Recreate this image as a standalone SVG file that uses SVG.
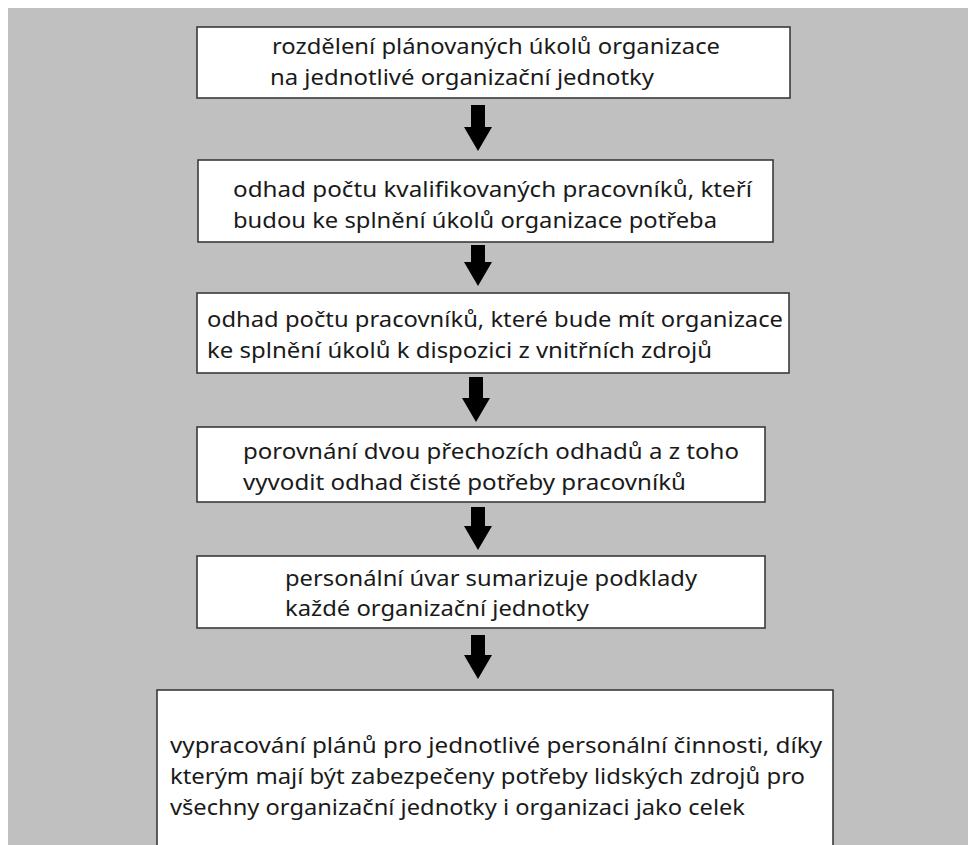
<svg xmlns="http://www.w3.org/2000/svg" width="970" height="845" viewBox="0 0 970 845">
<style>
.bg{fill:#c0c0c0}
.box{fill:#ffffff;stroke:#3a3a3a;stroke-width:1.6}
.t{font-family:"Noto Sans","Open Sans","Liberation Sans",sans-serif;font-size:22px;fill:#1a1a1a}
.arr{fill:#000000}
</style>
<rect width="970" height="845" fill="#ffffff"/>
<rect class="bg" x="8" y="8" width="960" height="837"/>
<g id="connectors">
<polygon class="arr" points="471,105 485,105 485,127 492,127 478,151 464,127 471,127"/>
<polygon class="arr" points="471,245 485,245 485,262 492,262 478,286 464,262 471,262"/>
<polygon class="arr" points="469,377 483,377 483,398 490,398 476,422 462,398 469,398"/>
<polygon class="arr" points="471,507 485,507 485,526 492,526 478,550 464,526 471,526"/>
<polygon class="arr" points="471,635 485,635 485,655 492,655 478,679 464,655 471,655"/>
</g>
<g id="n1">
<rect class="box" x="197" y="27" width="593" height="71"/>
<text class="t" x="272" y="54" textLength="448" lengthAdjust="spacingAndGlyphs">rozdělení plánovaných úkolů organizace</text>
<text class="t" x="270" y="85" textLength="384" lengthAdjust="spacingAndGlyphs">na jednotlivé organizační jednotky</text>
</g>
<g id="n2">
<rect class="box" x="198" y="160" width="575" height="82"/>
<text class="t" x="233" y="197" textLength="519" lengthAdjust="spacingAndGlyphs">odhad počtu kvalifikovaných pracovníků, kteří</text>
<text class="t" x="233" y="228" textLength="484" lengthAdjust="spacingAndGlyphs">budou ke splnění úkolů organizace potřeba</text>
</g>
<g id="n3">
<rect class="box" x="197" y="293" width="592" height="80"/>
<text class="t" x="207" y="327" textLength="576" lengthAdjust="spacingAndGlyphs">odhad počtu pracovníků, které bude mít organizace</text>
<text class="t" x="207" y="358" textLength="505" lengthAdjust="spacingAndGlyphs">ke splnění úkolů k dispozici z vnitřních zdrojů</text>
</g>
<g id="n4">
<rect class="box" x="197" y="427" width="568" height="75"/>
<text class="t" x="243" y="459" textLength="496" lengthAdjust="spacingAndGlyphs">porovnání dvou přechozích odhadů a z toho</text>
<text class="t" x="243" y="490" textLength="443" lengthAdjust="spacingAndGlyphs">vyvodit odhad čisté potřeby pracovníků</text>
</g>
<g id="n5">
<rect class="box" x="197" y="556" width="568" height="72"/>
<text class="t" x="285" y="586" textLength="412" lengthAdjust="spacingAndGlyphs">personální úvar sumarizuje podklady</text>
<text class="t" x="285" y="616" textLength="304" lengthAdjust="spacingAndGlyphs">každé organizační jednotky</text>
</g>
<g id="n6">
<rect class="box" x="157" y="690" width="676" height="170"/>
<text class="t" x="170" y="753" textLength="652" lengthAdjust="spacingAndGlyphs">vypracování plánů pro jednotlivé personální činnosti, díky</text>
<text class="t" x="170" y="784" textLength="635" lengthAdjust="spacingAndGlyphs">kterým mají být zabezpečeny potřeby lidských zdrojů pro</text>
<text class="t" x="170" y="815" textLength="575" lengthAdjust="spacingAndGlyphs">všechny organizační jednotky i organizaci jako celek</text>
</g>
</svg>
